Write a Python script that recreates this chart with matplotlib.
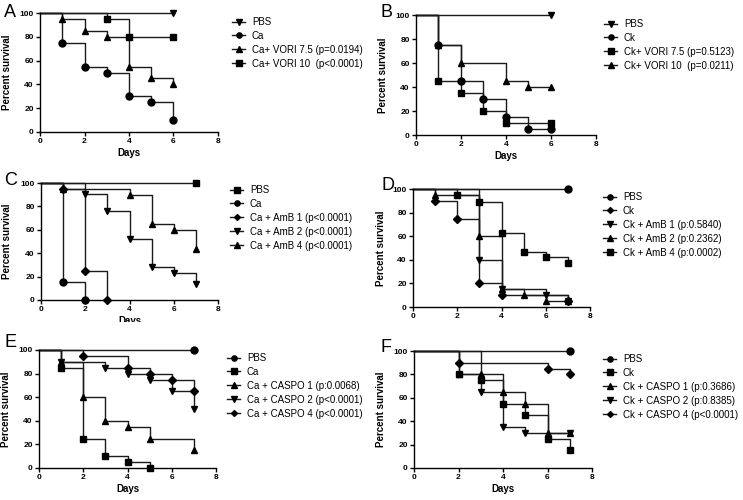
import matplotlib
matplotlib.use("Agg")
import matplotlib.pyplot as plt
from matplotlib.transforms import Bbox
from matplotlib.lines import Line2D

plt.rcParams['font.family'] = ['Liberation Sans', 'DejaVu Sans']

# ---------------- data ----------------
# Panel A
A_labels = ["PBS", "Ca", "Ca+ VORI 7.5 (p=0.0194)", "Ca+ VORI 10  (p<0.0001)"]
A_markers = ["v", "o", "^", "s"]
A_times = [[6], [1, 2, 3, 4, 5, 6], [1, 2, 3, 4, 5, 6], [3, 4, 6]]
A_vals = [[100], [75, 55, 50, 30, 25, 10], [95, 85, 80, 55, 45, 40], [95, 80, 80]]

# Panel B
B_labels = ["PBS", "Ck", "Ck+ VORI 7.5 (p=0.5123)", "Ck+ VORI 10  (p=0.0211)"]
B_markers = ["v", "o", "s", "^"]
B_times = [[6], [1, 2, 3, 4, 5, 6], [1, 2, 3, 4, 6], [1, 2, 4, 5, 6]]
B_vals = [[100], [75, 45, 30, 15, 5, 5], [45, 35, 20, 10, 10], [75, 60, 45, 40, 40]]

# Panel C
C_labels = ["PBS", "Ca", "Ca + AmB 1 (p<0.0001)", "Ca + AmB 2 (p<0.0001)", "Ca + AmB 4 (p<0.0001)"]
C_markers = ["s", "o", "D", "v", "^"]
C_times = [[7], [1, 2], [1, 2, 3], [2, 3, 4, 5, 6, 7], [1, 4, 5, 6, 7]]
C_vals = [[100], [15, 0], [95, 25, 0], [91, 76, 52, 28, 23, 14], [95, 90, 65, 60, 44]]

# Panel D
D_labels = ["PBS", "Ck", "Ck + AmB 1 (p:0.5840)", "Ck + AmB 2 (p:0.2362)", "Ck + AmB 4 (p:0.0002)"]
D_markers = ["o", "D", "v", "^", "s"]
D_times = [[7], [1, 2, 3, 4, 7], [3, 4, 6, 7], [1, 3, 4, 5, 6, 7], [2, 3, 4, 5, 6, 7]]
D_vals = [[100], [90, 75, 20, 10, 5], [40, 15, 10, 5], [95, 60, 15, 10, 5, 5], [95, 89, 63, 47, 42, 37]]

# Panel E
E_labels = ["PBS", "Ca", "Ca + CASPO 1 (p:0.0068)", "Ca + CASPO 2 (p<0.0001)", "Ca + CASPO 4 (p<0.0001)"]
E_markers = ["o", "s", "^", "v", "D"]
E_times = [[7], [1, 2, 3, 4, 5], [1, 2, 3, 4, 5, 7], [1, 3, 4, 5, 6, 7], [2, 4, 5, 6, 7]]
E_vals = [[100], [85, 25, 10, 5, 0], [90, 60, 40, 35, 25, 15], [90, 85, 80, 75, 65, 50], [95, 85, 80, 75, 65]]

# Panel F
F_labels = ["PBS", "Ck", "Ck + CASPO 1 (p:0.3686)", "Ck + CASPO 2 (p:0.8385)", "Ck + CASPO 4 (p<0.0001)"]
F_markers = ["o", "s", "^", "v", "D"]
F_times = [[7], [2, 3, 4, 5, 6, 7], [2, 3, 4, 5, 6, 7], [3, 4, 5, 7], [2, 6, 7]]
F_vals = [[100], [80, 75, 55, 45, 25, 15], [80, 80, 65, 55, 30, 30], [65, 35, 30, 30], [90, 85, 80]]

x_ticks = [0, 2, 4, 6, 8]
y_ticks = [0, 20, 40, 60, 80, 100]

# ---------------- layout ----------------
W, H = 743, 500
fig = plt.figure(figsize=(W / 100, H / 100), dpi=100)

def rect(l, r, t, b):
    return [l / W, 1 - b / H, (r - l) / W, (b - t) / H]

panels = [
    dict(letter="A", rect=(40, 218, 13, 132), lx=4, ly=4, data=(A_labels, A_markers, A_times, A_vals),
         leg=(232, 17), ylab=12, xlab=True, clip=None),
    dict(letter="B", rect=(416, 596, 15, 135), lx=380, ly=4, data=(B_labels, B_markers, B_times, B_vals),
         leg=(604, 19), ylab=388, xlab=True, clip=None),
    dict(letter="C", rect=(41, 218, 183, 300), lx=4, ly=172, data=(C_labels, C_markers, C_times, C_vals),
         leg=(230, 185), ylab=12, xlab=True, clip=322),
    dict(letter="D", rect=(413, 590, 189, 307), lx=381, ly=177, data=(D_labels, D_markers, D_times, D_vals),
         leg=(603, 192), ylab=386, xlab=False, clip=None),
    dict(letter="E", rect=(39, 216, 350, 468), lx=4, ly=334, data=(E_labels, E_markers, E_times, E_vals),
         leg=(227, 353), ylab=11, xlab=True, clip=None),
    dict(letter="F", rect=(414, 592, 351, 468), lx=380, ly=339, data=(F_labels, F_markers, F_times, F_vals),
         leg=(603, 354), ylab=386, xlab=True, clip=None),
]

line_color = "#1a1a1a"

for p in panels:
    ax = fig.add_axes(rect(*p["rect"]))
    labels, markers, times, vals = p["data"]
    handles = []
    for lab, m, t, v in zip(labels, markers, times, vals):
        xs = [0] + list(t)
        ys = [100] + list(v)
        ms = 4.0 if m == "D" else 5.0
        ax.step(xs, ys, where="post", color=line_color, lw=1.0, clip_on=False, zorder=2)
        ax.plot(t, v, linestyle="none", marker=m, color="black", markersize=ms, clip_on=False, zorder=3)
        handles.append(Line2D([], [], color=line_color, lw=1.0, marker=m, markersize=ms * 0.75,
                              markerfacecolor="black", markeredgecolor="black"))
    ax.set_xlim(0, 8)
    ax.set_ylim(0, 100)
    ax.set_xticks(x_ticks)
    ax.set_yticks(y_ticks)
    for s in ["top", "right"]:
        ax.spines[s].set_visible(False)
    for s in ["left", "bottom"]:
        ax.spines[s].set_linewidth(1.0)
        ax.spines[s].set_color("black")
    ax.tick_params(direction="out", length=3, width=1.0, labelsize=6, pad=1.5)
    for lbl in ax.get_xticklabels() + ax.get_yticklabels():
        lbl.set_fontweight("bold")
    ax.set_ylabel("Percent survival", fontsize=7, fontweight="bold", labelpad=2)
    ax.yaxis.set_label_coords((p["ylab"] - p["rect"][0]) / (p["rect"][1] - p["rect"][0]), 0.5)
    if p["xlab"]:
        ax.set_xlabel("Days", fontsize=7, fontweight="bold", labelpad=2)
        if p["clip"] is not None:
            ax.xaxis.label.set_clip_on(True)
            ax.xaxis.label.set_clip_box(Bbox.from_extents(0, H - p["clip"], W, H))
    fig.text(p["lx"] / W, 1 - p["ly"] / H, p["letter"], fontsize=13, va="top", ha="left")
    lx, ly = p["leg"]
    fig.legend(handles, labels, loc="upper left", bbox_to_anchor=(lx / W, 1 - ly / H),
               bbox_transform=fig.transFigure, frameon=False, fontsize=7, borderpad=0,
               handlelength=1.35, handletextpad=0.7, labelspacing=0.4, borderaxespad=0)

fig.savefig("out.png", dpi=100)
